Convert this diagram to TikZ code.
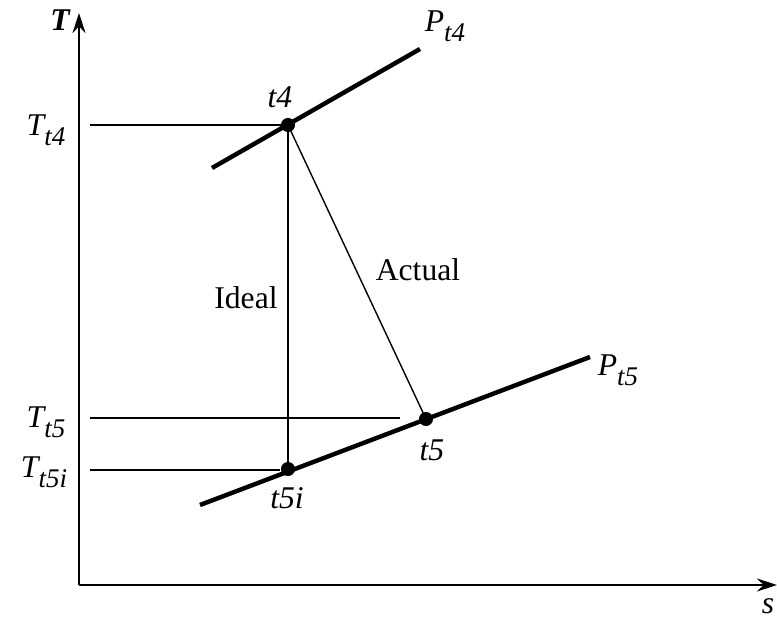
\documentclass[tikz,border=0pt]{standalone}
\usepackage{fontspec}
\setmainfont{Liberation Serif}
\usetikzlibrary{arrows.meta}
\newcommand{\lowsub}[1]{\raisebox{-0.32em}{\fontsize{23}{26}\selectfont #1}}

\begin{document}
\begin{tikzpicture}[x=0.03cm,y=-0.03cm,
    font=\fontsize{27}{32}\selectfont\itshape]
        \useasboundingbox (0,0) rectangle (777,623);
        % Coordinates
        \coordinate (o) at (79,585);
        \coordinate (ytop) at (79,13);
        \coordinate (xend) at (777,585);
        \coordinate (x4) at (288,125);
        \coordinate (x5) at (426,419);
        \coordinate (x5i) at (288,469);
        \coordinate (p4a) at (212,168);
        \coordinate (p4b) at (420,49);
        \coordinate (p5a) at (200,505);
        \coordinate (p5b) at (590,357);
        \coordinate (h4) at (90,125);
        \coordinate (h5) at (90,418);
        \coordinate (h5e) at (400,418);
        \coordinate (h5i) at (90,470);
        \coordinate (h5ie) at (280,470);
        % Draw the axes
        \draw[-{Stealth[length=17pt,width=11pt]}, line width=2.2pt] (o) -- (ytop);
        \draw[-{Stealth[length=17pt,width=11pt]}, line width=2.2pt] (o) -- (xend);
        \node (lT) at (60,20) {\textbf{T}};
        \node (ls) at (768,606) {s};
        % Draw the pressure lines
        \draw[line width=3.8pt] (p4a) -- (p4b);
        \draw[line width=3.8pt] (p5a) -- (p5b);
        \node (lP4) at (445,26) {P\lowsub{t4}};
        \node (lP5) at (618,370) {P\lowsub{t5}};
        % Draw the levels
        \draw[line width=1.2pt] (h4) -- (x4);
        \draw[line width=1.2pt] (h5) -- (h5e);
        \draw[line width=1.2pt] (h5i) -- (h5ie);
        \node (lT4) at (46,130) {T\lowsub{t4}};
        \node (lT5) at (46,422) {T\lowsub{t5}};
        \node (lT5i) at (44,472) {T\lowsub{t5i}};
        % Draw the expansions
        \draw[line width=1.2pt] (x4) -- (x5i);
        \draw[line width=1.2pt] (x4) -- (x5);
        \node[font=\fontsize{27}{32}\selectfont] (ideal) at (246,298) {Ideal};
        \node[font=\fontsize{27}{32}\selectfont] (actual) at (418,270) {Actual};
        % Draw the nodes
        \fill (x4) circle (6pt);
        \fill (x5) circle (6pt);
        \fill (x5i) circle (6pt);
        \node (l4) at (280,97) {t4};
        \node (l5) at (432,450) {t5};
        \node (l5i) at (287,498) {t5i};
    \end{tikzpicture}
\end{document}
